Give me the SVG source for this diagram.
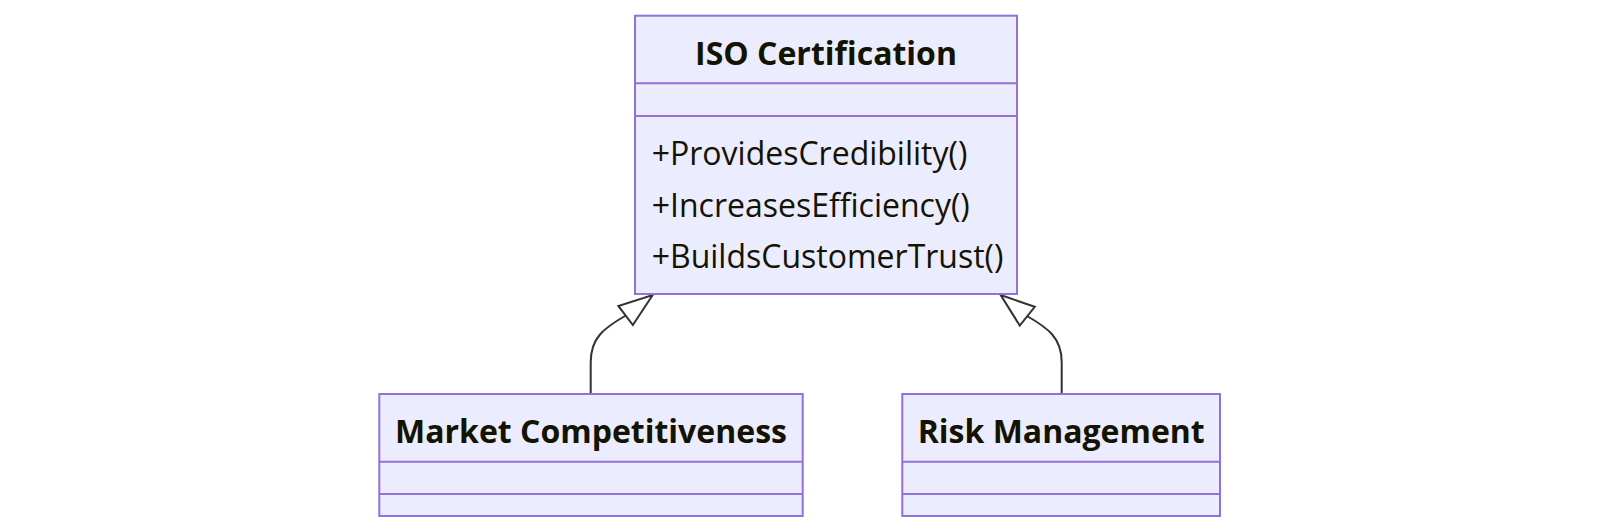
<svg xmlns="http://www.w3.org/2000/svg" width="1600" height="532" viewBox="0 0 1600 532">
<style>
.box{fill:#ECECFF;stroke:#9370DB;stroke-width:2}
.div{stroke:#9370DB;stroke-width:2}
.t{font-family:"Open Sans",sans-serif;fill:#131300}
.b{font-weight:bold;font-size:32px;text-anchor:middle}
.m{font-size:32px}
.edge{fill:none;stroke:#333;stroke-width:2}
</style>
<defs>
<marker id="ext" viewBox="0 0 20 14" markerUnits="userSpaceOnUse" markerWidth="40" markerHeight="28" refX="18" refY="7" orient="auto">
<path d="M18,7 L1,13 L1,1 Z" fill="#fff" stroke="#333" stroke-width="1"/>
</marker>
</defs>
<g id="connectors">
<path class="edge" d="M590.7,394 L590.7,362 C590.7,338 604,328 625,316 L652.7,295" marker-end="url(#ext)"/>
<path class="edge" d="M1061.7,394 L1061.7,362 C1061.7,338 1048,328 1027,316 L1000.7,295" marker-end="url(#ext)"/>
</g>
<g id="iso">
<rect class="box" x="635" y="15.7" width="382" height="278.3"/>
<line class="div" x1="635" y1="83.3" x2="1017" y2="83.3"/>
<line class="div" x1="635" y1="116" x2="1017" y2="116"/>
<text class="t b" x="826" y="65">ISO Certification</text>
<text class="t m" x="651.7" y="165">+ProvidesCredibility()</text>
<text class="t m" x="651.7" y="216.7">+IncreasesEfficiency()</text>
<text class="t m" x="651.7" y="268.3">+BuildsCustomerTrust()</text>
</g>
<g id="market">
<rect class="box" x="379.3" y="394" width="423.4" height="122"/>
<line class="div" x1="379.3" y1="461.7" x2="802.7" y2="461.7"/>
<line class="div" x1="379.3" y1="494" x2="802.7" y2="494"/>
<text class="t b" x="591" y="443.3">Market Competitiveness</text>
</g>
<g id="risk">
<rect class="box" x="902.3" y="394" width="317.7" height="122"/>
<line class="div" x1="902.3" y1="461.7" x2="1220" y2="461.7"/>
<line class="div" x1="902.3" y1="494" x2="1220" y2="494"/>
<text class="t b" x="1061.2" y="443.3">Risk Management</text>
</g>
</svg>
